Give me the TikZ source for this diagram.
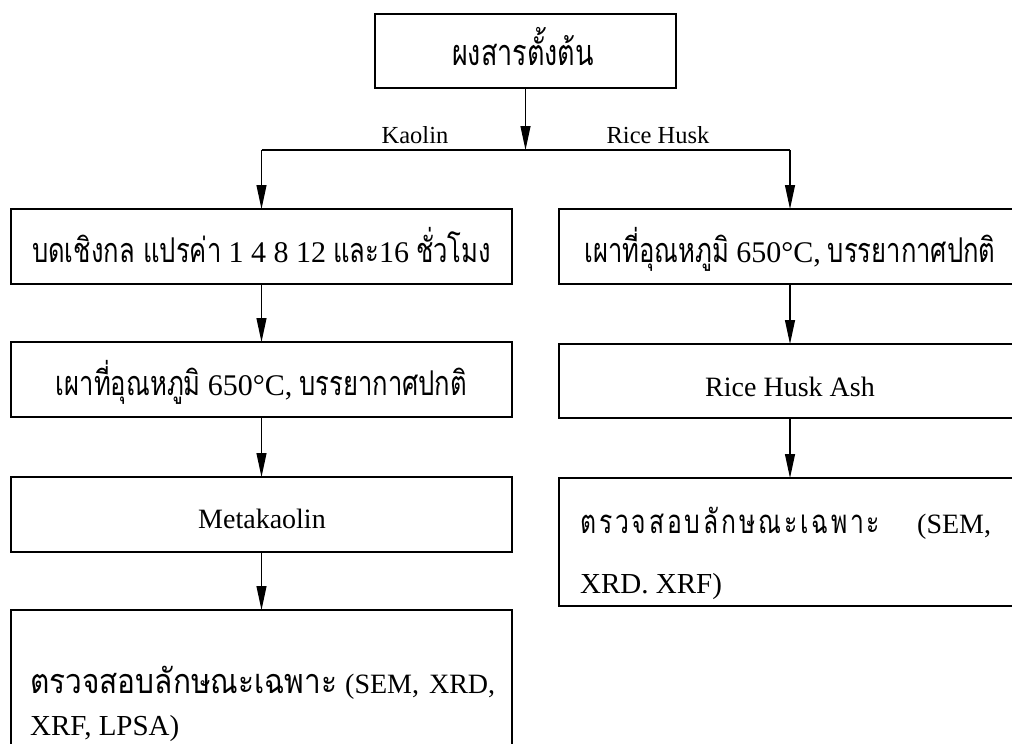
\documentclass[tikz,border=0pt]{standalone}
\usepackage{fontspec}
\usepackage{graphicx}
\setmainfont{Liberation Serif}
\newfontfamily\thaifont[Script=Thai,Scale=1.22,FakeStretch=0.75]{Loma}
\usetikzlibrary{arrows.meta}
\newcommand\thai[1]{{\thaifont #1}}
\newcommand\lat[1]{{\fontsize{30}{32}\selectfont #1}}

\begin{document}
\begin{tikzpicture}[x=1pt,y=-1pt,
  stepbox/.style={draw, line width=1.1pt, inner sep=0pt, outer sep=0pt,
    minimum width=501pt, minimum height=75pt},
  rbox/.style={stepbox, minimum width=462pt},
  arr/.style={-{Triangle[width=10pt,length=24pt]}, line width=1.1pt},
  txt/.style={inner sep=0pt, anchor=base, font=\fontsize{28}{30}\selectfont},
  ltxt/.style={txt, anchor=base west},
  branch/.style={inner sep=0pt, anchor=base, font=\fontsize{24.5}{26}\selectfont}
]
\useasboundingbox (0,0) rectangle (1012,744);
\clip (0,0) rectangle (1012,744);

% boxes
\node[stepbox, minimum width=301pt, minimum height=74pt] (top) at (525.5,51) {};
\node[stepbox] (L1) at (261.5,246.5) {};
\node[stepbox] (L2) at (261.5,379.5) {};
\node[stepbox] (L3) at (261.5,514.5) {};
\node[stepbox, minimum height=160pt] (L4) at (261.5,690) {};
\node[rbox] (R1) at (790,246.5) {};
\node[rbox, minimum height=74pt] (R2) at (790,381) {};
\node[rbox, minimum height=128pt] (R3) at (790,542) {};

% texts
\node[txt, font=\fontsize{29.5}{31}\selectfont] (ttop) at (523,65) {\thai{ผงสารตั้งต้น}};
\node[txt] (tL1) at (261.5,262) {\thai{บดเชิงกล แปรค่า} \lat{1 4 8 12} \thai{และ}\lat{16} \thai{ชั่วโมง}};
\node[txt] (tL2) at (261.5,395) {\thai{เผาที่อุณหภูมิ} \lat{650°C,} \thai{บรรยากาศปกติ}};
\node[txt] (tL3) at (262,528) {Metakaolin};
\node[ltxt] (tL4a) at (30,693) {\hbox to 465pt{\resizebox{307pt}{\height}{\thai{ตรวจสอบลักษณะเฉพาะ}}\hskip 8pt(SEM,\hfill XRD,}};
\node[ltxt, font=\fontsize{29}{31}\selectfont] (tL4b) at (30,735) {XRF, LPSA)};
\node[txt] (tR1) at (790,262) {\thai{เผาที่อุณหภูมิ} \lat{650°C,} \thai{บรรยากาศปกติ}};
\node[txt] (tR2) at (790,396) {Rice Husk Ash};
\node[ltxt] (tR3a) at (580,533) {\hbox to 300pt{\fontsize{27}{29}\thaifont ต\hfill ร\hfill ว\hfill จ\hfill ส\hfill อ\hfill บ\hfill ลั\hfill ก\hfill ษ\hfill ณ\hfill ะ\hfill เ\hfill ฉ\hfill พ\hfill า\hfill ะ}\hskip 37pt(SEM,};
\node[ltxt, font=\fontsize{29}{31}\selectfont] (tR3b) at (580,593) {XRD. XRF)};

% branch labels
\node[branch] (kaolin) at (415,143) {Kaolin};
\node[branch] (husk) at (658,143) {Rice Husk};

% connectors
\coordinate (split) at (525.5,150);
\coordinate (kl) at (261.5,150);
\coordinate (kr) at (790,150);
\draw[arr] (top) -- (split);
\draw[line width=1.1pt] (kl) -- (kr);
\draw[arr] (kl) -- (L1);
\draw[arr] (kr) -- (R1);
\draw[arr] (L1) -- (L2);
\draw[arr] (L2) -- (L3);
\draw[arr] (L3) -- (L4);
\draw[arr] (R1) -- (R2);
\draw[arr] (R2) -- (R3);
\end{tikzpicture}
\end{document}
